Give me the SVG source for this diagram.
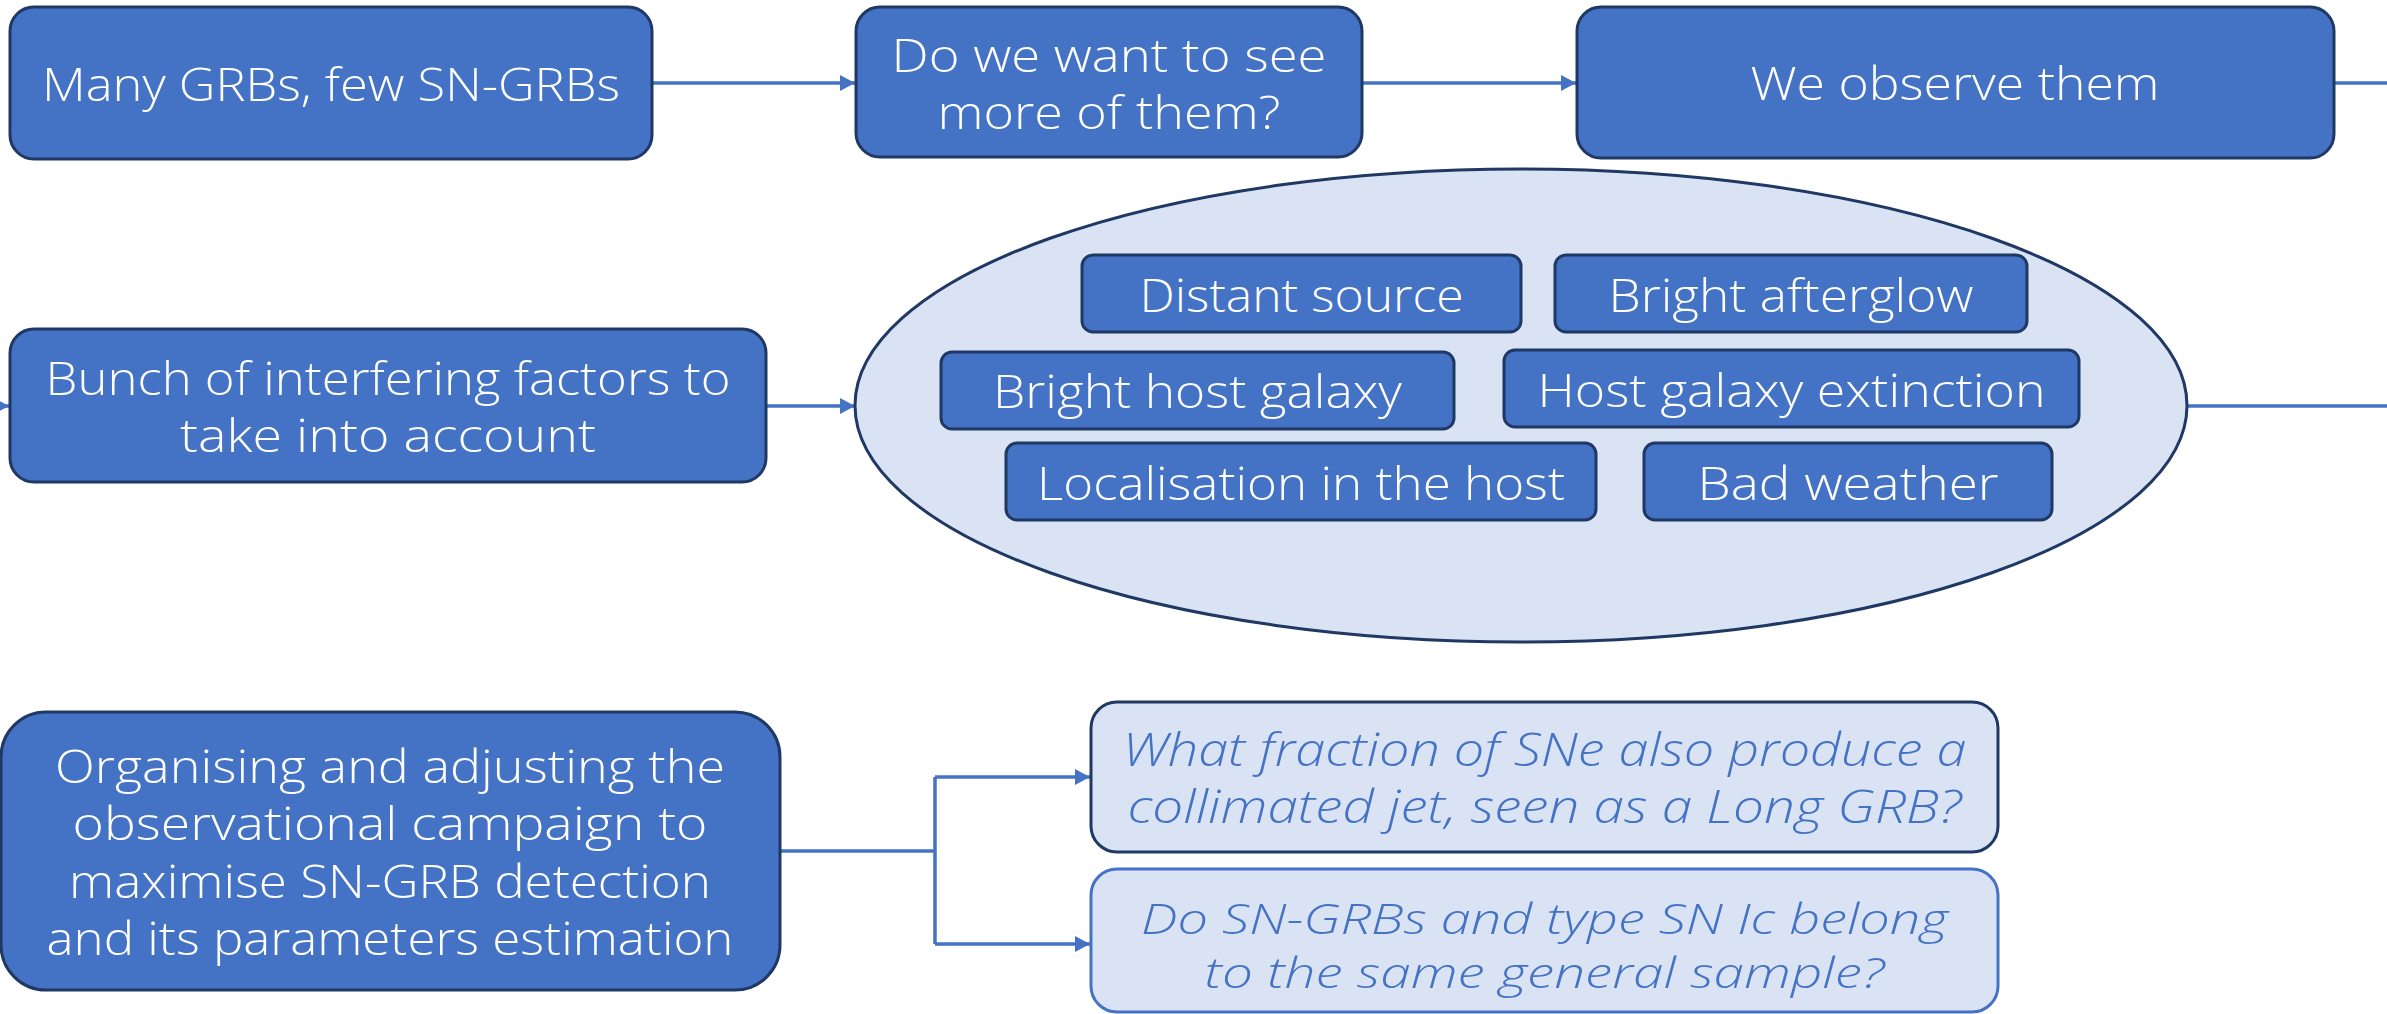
<svg xmlns="http://www.w3.org/2000/svg" width="2387" height="1014" viewBox="0 0 2387 1014">
<style>
.node{fill:#4472C4;stroke:#1F3864;stroke-width:3}
.lnode{fill:#DAE3F3;stroke:#1F3864;stroke-width:3}
.lnode2{fill:#DAE3F3;stroke:#4472C4;stroke-width:3}
.t{font-family:"Open Sans","Liberation Sans",Arial,sans-serif;font-weight:300;font-size:46px;fill:#FFFFFF;text-anchor:middle}
.ti{font-family:"Open Sans","Liberation Sans",Arial,sans-serif;font-weight:300;font-size:46px;font-style:italic;fill:#4472C4;text-anchor:middle}
.s{font-size:43px}
.c{fill:none;stroke:#4472C4;stroke-width:3.5}
</style>
<defs>
<marker id="arr" markerUnits="userSpaceOnUse" markerWidth="16" markerHeight="16" refX="15" refY="8" orient="auto">
<path d="M0,0 L15,8 L0,16 z" fill="#4472C4"/>
</marker>
</defs>
<g id="connectors">
<path class="c" d="M652,83 L855,83" marker-end="url(#arr)"/>
<path class="c" d="M1362,83 L1576,83" marker-end="url(#arr)"/>
<path class="c" d="M2334,83 L2387,83"/>
<path class="c" d="M0,406 L9,406" marker-end="url(#arr)"/>
<path class="c" d="M766,406 L855,406" marker-end="url(#arr)"/>
<path class="c" d="M2187,406 L2387,406"/>
<path class="c" d="M780,851 L935,851"/>
<path class="c" d="M935,777 L935,944"/>
<path class="c" d="M935,777 L1090,777" marker-end="url(#arr)"/>
<path class="c" d="M935,944 L1090,944" marker-end="url(#arr)"/>
</g>
<g id="n1"><rect class="node" x="10" y="7" width="642" height="152" rx="24"/><text class="t" x="331" y="101" textLength="578" lengthAdjust="spacingAndGlyphs">Many GRBs, few SN-GRBs</text></g>
<g id="n2"><rect class="node" x="856" y="7" width="506" height="150" rx="24"/><text class="t" x="1109" y="72" textLength="435" lengthAdjust="spacingAndGlyphs">Do we want to see</text><text class="t" x="1109" y="129" textLength="343" lengthAdjust="spacingAndGlyphs">more of them?</text></g>
<g id="n3"><rect class="node" x="1577" y="7" width="757" height="151" rx="24"/><text class="t" x="1955" y="100" textLength="409" lengthAdjust="spacingAndGlyphs">We observe them</text></g>
<g id="n4"><rect class="node" x="10" y="329" width="756" height="153" rx="24"/><text class="t" x="388" y="395" textLength="685" lengthAdjust="spacingAndGlyphs">Bunch of interfering factors to</text><text class="t" x="388" y="452" textLength="416" lengthAdjust="spacingAndGlyphs">take into account</text></g>
<g id="factors">
<ellipse class="lnode" cx="1521" cy="405.5" rx="666" ry="236.5"/>
<g id="f1"><rect class="node" x="1082" y="255" width="439" height="77" rx="11"/><text class="t" x="1301.5" y="312" textLength="324" lengthAdjust="spacingAndGlyphs">Distant source</text></g>
<g id="f2"><rect class="node" x="1555" y="255" width="472" height="77" rx="11"/><text class="t" x="1791" y="312" textLength="365" lengthAdjust="spacingAndGlyphs">Bright afterglow</text></g>
<g id="f3"><rect class="node" x="941" y="352" width="513" height="77" rx="11"/><text class="t" x="1197.5" y="408" textLength="409" lengthAdjust="spacingAndGlyphs">Bright host galaxy</text></g>
<g id="f4"><rect class="node" x="1504" y="350" width="575" height="77" rx="11"/><text class="t" x="1791.5" y="407" textLength="508" lengthAdjust="spacingAndGlyphs">Host galaxy extinction</text></g>
<g id="f5"><rect class="node" x="1006" y="443" width="590" height="77" rx="11"/><text class="t" x="1301" y="500" textLength="528" lengthAdjust="spacingAndGlyphs">Localisation in the host</text></g>
<g id="f6"><rect class="node" x="1644" y="443" width="408" height="77" rx="11"/><text class="t" x="1848" y="500" textLength="301" lengthAdjust="spacingAndGlyphs">Bad weather</text></g>
</g>
<g id="n5"><rect class="node" x="1" y="712" width="779" height="278" rx="45"/><text class="t" x="390" y="783" textLength="670" lengthAdjust="spacingAndGlyphs">Organising and adjusting the</text><text class="t" x="390" y="840" textLength="635" lengthAdjust="spacingAndGlyphs">observational campaign to</text><text class="t" x="390" y="898" textLength="642" lengthAdjust="spacingAndGlyphs">maximise SN-GRB detection</text><text class="t" x="390" y="955" textLength="687" lengthAdjust="spacingAndGlyphs">and its parameters estimation</text></g>
<g id="n6"><rect class="lnode" x="1091" y="702" width="907" height="150" rx="26"/><text class="ti" x="1544.5" y="766" textLength="844" lengthAdjust="spacingAndGlyphs">What fraction of SNe also produce a</text><text class="ti" x="1544.5" y="823" textLength="834" lengthAdjust="spacingAndGlyphs">collimated jet, seen as a Long GRB?</text></g>
<g id="n7"><rect class="lnode2" x="1091" y="869" width="907" height="143" rx="26"/><text class="ti s" x="1544.5" y="934" textLength="807" lengthAdjust="spacingAndGlyphs">Do SN-GRBs and type SN Ic belong</text><text class="ti s" x="1544.5" y="988" textLength="680" lengthAdjust="spacingAndGlyphs">to the same general sample?</text></g>
</svg>
